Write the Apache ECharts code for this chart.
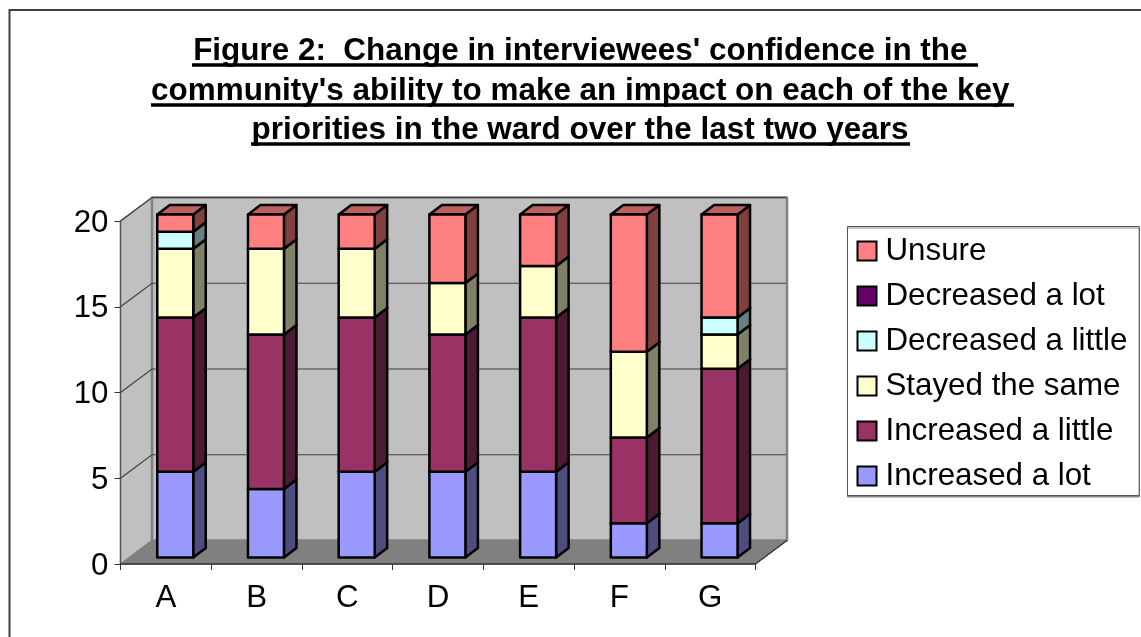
<!DOCTYPE html>
<html>
<head>
<meta charset="utf-8">
<style>html,body{margin:0;padding:0;background:#fff}#chart{width:1141px;height:637px}</style>
<script src="https://cdn.jsdelivr.net/npm/echarts@6/dist/echarts.min.js"></script>
</head>
<body>
<div id="chart"></div>
<script>
var categories = ['A', 'B', 'C', 'D', 'E', 'F', 'G'];
var increasedLot = [5, 4, 5, 5, 5, 2, 2];
var increasedLittle = [9, 9, 9, 8, 9, 5, 9];
var stayedSame = [4, 5, 4, 3, 3, 5, 2];
var decreasedLittle = [1, 0, 0, 0, 0, 0, 1];
var decreasedLot = [0, 0, 0, 0, 0, 0, 0];
var unsure = [1, 2, 2, 4, 3, 8, 6];
var yTicks = [0, 5, 10, 15, 20];
var titleLines = [
    "Figure 2:  Change in interviewees' confidence in the ",
    "community's ability to make an impact on each of the key ",
    'priorities in the ward over the last two years'
];

var stacks = [
    { name: 'Increased a lot', values: increasedLot, color: '#9999FF', side: '#4D4D80', top: '#7373BF' },
    { name: 'Increased a little', values: increasedLittle, color: '#993366', side: '#4D1A33', top: '#73264D' },
    { name: 'Stayed the same', values: stayedSame, color: '#FFFFCC', side: '#808066', top: '#BFBF99' },
    { name: 'Decreased a little', values: decreasedLittle, color: '#CCFFFF', side: '#668080', top: '#99BFBF' },
    { name: 'Decreased a lot', values: decreasedLot, color: '#660066', side: '#330033', top: '#4D004D' },
    { name: 'Unsure', values: unsure, color: '#FF8080', side: '#804040', top: '#BF6060' }
];

// depth of the fake 3d box, in pixels
var wallDx = 31.5, wallDy = -23.5;
var barDx = 12.5, barDy = -9.5;
var barShift = 9.4, barLift = -6.5, barWidth = 36;
var fontSize = 31.3;

function poly(points, fill, stroke, lineWidth) {
    return {
        type: 'polygon',
        shape: { points: points },
        style: { fill: fill, stroke: stroke, lineWidth: lineWidth, lineJoin: 'round' }
    };
}

function renderWalls(params, api) {
    var c = params.coordSys;
    var l = c.x, r = c.x + c.width, t = c.y, b = c.y + c.height;
    var kids = [
        poly([[l, t], [l + wallDx, t + wallDy], [l + wallDx, b + wallDy], [l, b]], '#C0C0C0', '#808080', 1.5),
        poly([[l + wallDx, t + wallDy], [r + wallDx, t + wallDy], [r + wallDx, b + wallDy], [l + wallDx, b + wallDy]], '#C0C0C0', '#808080', 2.5),
        poly([[l, b], [l + wallDx, b + wallDy], [r + wallDx, b + wallDy], [r, b]], '#808080', '#808080', 1)
    ];
    yTicks.forEach(function (v) {
        if (v === 0) return;
        var y = api.coord([0, v])[1];
        kids.push({
            type: 'polyline',
            shape: { points: [[l, y], [l + wallDx, y + wallDy], [r + wallDx - 1, y + wallDy]] },
            style: { fill: null, stroke: '#404040', lineWidth: 1.2 }
        });
    });
    // right floor edge
    kids.push({
        type: 'line',
        shape: { x1: r, y1: b, x2: r + wallDx, y2: b + wallDy },
        style: { stroke: '#333', lineWidth: 1.2 }
    });
    return { type: 'group', children: kids };
}

function makeRender(si) {
    var s = stacks[si];
    return function (params, api) {
        var i = api.value(0);
        var v = s.values[i];
        if (!v) return null;
        var base = 0;
        for (var k = 0; k < si; k++) base += stacks[k].values[i];
        var p0 = api.coord([i, base]);
        var p1 = api.coord([i, base + v]);
        var x0 = p0[0] + barShift - barWidth / 2, x1 = x0 + barWidth;
        var y0 = p0[1] + barLift, y1 = p1[1] + barLift;
        return {
            type: 'group',
            children: [
                poly([[x1, y0], [x1 + barDx, y0 + barDy], [x1 + barDx, y1 + barDy], [x1, y1]], s.side, '#000', 2.5),
                poly([[x0, y1], [x1, y1], [x1 + barDx, y1 + barDy], [x0 + barDx, y1 + barDy]], s.top, '#000', 2.5),
                poly([[x0, y0], [x1, y0], [x1, y1], [x0, y1]], s.color, '#000', 2.5)
            ]
        };
    };
}

var series = [{
    type: 'custom',
    name: 'walls',
    silent: true,
    z: 1,
    data: [[0, 0]],
    renderItem: renderWalls
}];
stacks.forEach(function (s, si) {
    series.push({
        type: 'custom',
        name: s.name,
        z: 3 + si,
        itemStyle: { color: s.color, borderColor: '#000', borderWidth: 2 },
        encode: { x: 0, y: 1 },
        data: categories.map(function (c, i) { return [i, s.values[i]]; }),
        renderItem: makeRender(si)
    });
});

function underline(x1, x2, y) {
    return { type: 'rect', shape: { x: x1, y: y, width: x2 - x1, height: 3.4 }, style: { fill: '#000' }, silent: true };
}

function titleLine(text, cx, top) {
    return {
        text: text,
        left: cx,
        top: top,
        textAlign: 'center',
        padding: 0,
        textStyle: { fontFamily: 'Liberation Sans', fontWeight: 'bold', fontSize: 31.45, color: '#000' }
    };
}

var chart = echarts.init(document.getElementById('chart'));
chart.setOption({
    animation: false,
    backgroundColor: '#fff',
    textStyle: { fontFamily: 'Liberation Sans' },
    title: [
        titleLine(titleLines[0], 584.7, 36),
        titleLine(titleLines[1], 584.6, 76),
        titleLine(titleLines[2], 580, 115)
    ],
    grid: { left: 120.5, top: 221, width: 635, height: 343 },
    xAxis: {
        type: 'category',
        data: categories,
        z: 6,
        axisLine: { lineStyle: { color: '#333', width: 1.5 } },
        axisTick: { show: true, length: 6, alignWithLabel: false, lineStyle: { color: '#333', width: 1 } },
        axisLabel: { fontSize: fontSize, color: '#000', margin: 19, fontFamily: 'Liberation Sans' },
        splitLine: { show: false }
    },
    yAxis: {
        type: 'value',
        min: 0,
        max: 20,
        interval: 5,
        z: 6,
        axisLine: { show: true, lineStyle: { color: '#555', width: 1.2 } },
        axisTick: { show: true, length: 6, lineStyle: { color: '#333', width: 1 } },
        axisLabel: {
            margin: 12,
            formatter: '{v|{value}}',
            rich: { v: { fontSize: fontSize, color: '#000', fontFamily: 'Liberation Sans', padding: [4, 0, 0, 0] } }
        },
        splitLine: { show: false }
    },
    legend: {
        left: 847.5,
        top: 226.5,
        orient: 'vertical',
        padding: [9, 12, 4, 9],
        itemWidth: 19,
        itemHeight: 19,
        itemGap: 14,
        icon: 'rect',
        selectedMode: false,
        backgroundColor: '#fff',
        borderColor: '#555',
        borderWidth: 1,
        shadowColor: '#888',
        shadowOffsetY: 1.5,
        shadowBlur: 0,
        textStyle: { fontSize: fontSize, color: '#000', fontFamily: 'Liberation Sans', padding: [0, 0, 0, 4] },
        data: stacks.map(function (s) { return s.name; }).reverse()
    },
    graphic: [
        {
            type: 'polyline',
            silent: true,
            shape: { points: [[9.5, 637], [9.5, 10], [1141, 10]] },
            style: { fill: null, stroke: '#404040', lineWidth: 2 }
        },
        underline(192, 978, 63.3),
        underline(151, 1014, 103.3),
        underline(251, 910, 142.3)
    ],
    series: series
});
</script>
</body>
</html>
